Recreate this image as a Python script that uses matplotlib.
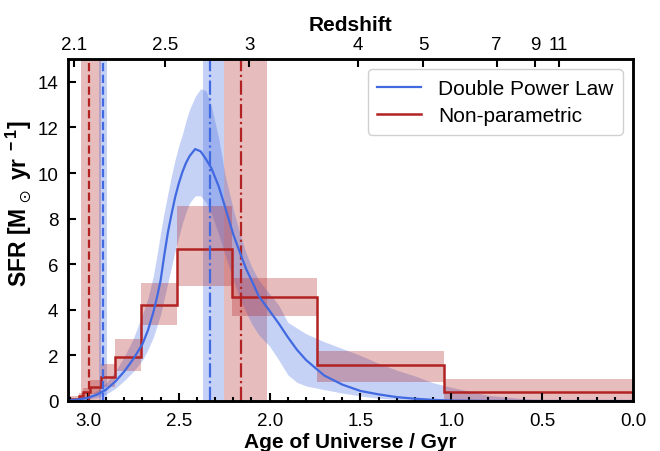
import numpy as np
import matplotlib.pyplot as plt
from matplotlib.ticker import MultipleLocator

plt.rcParams['font.family'] = ['Liberation Sans', 'DejaVu Sans']
plt.rcParams['mathtext.default'] = 'regular'

# Double power law SFH posterior: age of universe (Gyr), SFR (Msun/yr)
dpl_age = [3.10, 3.05, 3.00, 2.95, 2.90, 2.85, 2.80, 2.75, 2.70, 2.67, 2.64,
           2.62, 2.60, 2.58, 2.56, 2.54, 2.52, 2.50, 2.48, 2.46, 2.44, 2.41,
           2.38, 2.35, 2.32, 2.28, 2.245, 2.20, 2.17, 2.13, 2.10, 2.06, 2.00,
           1.95, 1.90, 1.85, 1.80, 1.70, 1.60, 1.50, 1.40, 1.30, 1.20, 1.10,
           1.00, 0.80, 0.60, 0.40, 0.20, 0.00]
dpl_med = [0.03, 0.07, 0.14, 0.28, 0.50, 0.85, 1.30, 1.85, 2.50, 3.10, 3.90,
           4.55, 5.30, 6.40, 7.40, 8.20, 8.95, 9.55, 10.05, 10.45, 10.75, 11.05,
           10.95, 10.6, 10.2, 9.40, 8.50, 7.30, 6.65, 5.80, 5.30, 4.60, 3.95,
           3.40, 2.80, 2.25, 1.80, 1.12, 0.72, 0.44, 0.29, 0.17, 0.10, 0.05,
           0.02, 0.005, 0.0, 0.0, 0.0, 0.0]
dpl_lo = [0.01, 0.03, 0.07, 0.15, 0.30, 0.55, 0.90, 1.30, 1.80, 2.25, 2.80,
          3.30, 3.80, 4.50, 5.20, 5.90, 6.60, 7.20, 7.80, 8.30, 8.70, 9.00,
          9.00, 8.70, 8.20, 7.30, 6.40, 5.30, 4.60, 3.90, 3.40, 2.90, 2.40,
          1.80, 1.15, 0.82, 0.66, 0.50, 0.35, 0.22, 0.12, 0.07, 0.04, 0.02,
          0.01, 0.0, 0.0, 0.0, 0.0, 0.0]
dpl_hi = [0.05, 0.12, 0.25, 0.45, 0.80, 1.30, 1.95, 2.75, 3.80, 4.50, 5.50,
          6.40, 7.40, 8.30, 9.10, 9.90, 10.6, 11.2, 11.7, 12.3, 12.8, 13.35,
          13.7, 13.6, 12.9, 11.5, 9.90, 8.40, 7.50, 6.50, 5.90, 5.30, 4.70,
          4.20, 3.45, 3.20, 2.95, 2.60, 2.30, 2.00, 1.65, 1.35, 1.10, 0.80,
          0.60, 0.25, 0.10, 0.04, 0.01, 0.0]

# Non-parametric SFH: bin edges in age (Gyr) and SFR per bin
np_edges = [3.11, 3.05, 3.025, 2.99, 2.93, 2.85, 2.71, 2.51, 2.21, 1.74, 1.04, 0.0]
np_sfr = [0.08, 0.20, 0.38, 0.60, 1.05, 1.93, 4.20, 6.65, 4.58, 1.59, 0.39]
np_lo = [0.00, 0.05, 0.15, 0.30, 0.60, 1.33, 3.32, 5.05, 3.73, 0.82, 0.00]
np_hi = [0.20, 0.35, 0.55, 0.90, 1.62, 2.71, 5.19, 8.55, 5.41, 2.20, 0.96]

# formation / quenching times (lower, median, upper) in Gyr
dpl_tform = [2.897, 2.92, 2.94]
np_tform = [2.93, 2.994, 3.04]
dpl_tquench = [2.254, 2.331, 2.365]
np_tquench = [2.015, 2.159, 2.25]

z_ticks = [2.1, 2.5, 3, 4, 5, 7, 9, 11]


def age_at_z(z, H0=70.0, Om=0.3):
    OL = 1.0 - Om
    th = 977.8 / H0
    return th * 2.0 / (3.0 * np.sqrt(OL)) * np.arcsinh(np.sqrt(OL / Om) * (1.0 + np.asarray(z)) ** -1.5)


blue = 'royalblue'
red = 'firebrick'

fig = plt.figure(figsize=(6.6, 4.52), dpi=100)
ax = fig.add_axes([68 / 660, 1 - 402 / 452, (633 - 68) / 660, (402 - 60) / 452])

# vertical bands for formation and quenching times
for t, c, ls in [(np_tform, red, '--'), (dpl_tform, blue, '--'),
                 (dpl_tquench, blue, '-.'), (np_tquench, red, '-.')]:
    ax.axvspan(t[0], t[2], color=c, alpha=0.3, lw=0)
    ax.axvline(t[1], color=c, ls=ls, lw=1.6)

ax.fill_between(dpl_age, dpl_lo, dpl_hi, color=blue, alpha=0.3, lw=0)

edges = np.array(np_edges)
lo = np.array(np_lo)
hi = np.array(np_hi)
ax.bar(edges[1:], hi - lo, width=edges[:-1] - edges[1:], bottom=lo,
       align='edge', color=red, alpha=0.3, lw=0)

ax.plot(dpl_age, dpl_med, color=blue, lw=1.6, label='Double Power Law')
ax.stairs(np_sfr[::-1], np_edges[::-1], baseline=None, color=red, lw=1.8,
          label='Non-parametric')

ax.set_xlim(3.11, 0.0)
ax.set_ylim(0, 15)
ax.xaxis.set_major_locator(MultipleLocator(0.5))
ax.xaxis.set_minor_locator(MultipleLocator(0.1))
ax.yaxis.set_major_locator(MultipleLocator(2))
ax.tick_params(which='both', direction='in', labelsize=13.5, width=1.5)
ax.tick_params(which='major', length=6)
ax.tick_params(which='minor', length=3)
ax.tick_params(axis='x', pad=8)
ax.tick_params(axis='y', pad=7)
ax.set_xlabel('Age of Universe / Gyr', fontsize=15, fontweight='bold', labelpad=2)
ax.set_ylabel(r'SFR [M$_{\,\odot}$ yr$^{\;-1}$]', fontsize=16.5, fontweight='bold')
ax.yaxis.set_label_coords(-0.062, 0.58)

leg = ax.legend(loc='upper right', fontsize=15, handlelength=2.1,
                borderpad=0.45, labelspacing=0.4, fancybox=True, framealpha=1,
                edgecolor='#d0d0d0')

top = ax.twiny()
top.set_xlim(ax.get_xlim())
top.set_xticks(age_at_z(z_ticks))
top.set_xticklabels([str(z) for z in z_ticks])
top.tick_params(direction='in', labelsize=13.5, length=6, width=1.5, pad=4)
top.set_xlabel('Redshift', fontsize=15, fontweight='bold', labelpad=5)

for a in (ax, top):
    for s in a.spines.values():
        s.set_linewidth(1.8)

fig.savefig('out.png', dpi=100)
